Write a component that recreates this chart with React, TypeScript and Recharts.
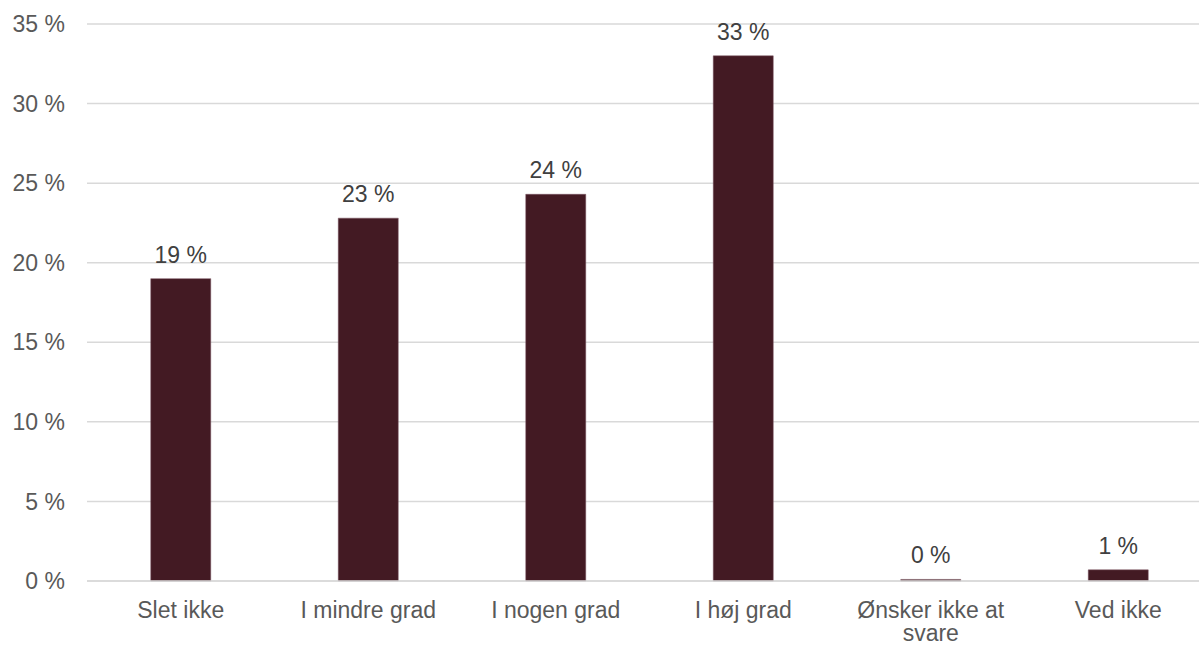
import { BarChart, Bar, XAxis, YAxis, CartesianGrid, LabelList } from "recharts";

const categories = [
  "Slet ikke",
  "I mindre grad",
  "I nogen grad",
  "I høj grad",
  "Ønsker ikke at\nsvare",
  "Ved ikke",
];
const shares = [19.0, 22.8, 24.3, 33.0, 0.1, 0.7];
const shareLabels = ["19 %", "23 %", "24 %", "33 %", "0 %", "1 %"];
const yTicks = [0, 5, 10, 15, 20, 25, 30, 35];

const data = categories.map((name, i) => ({
  name,
  value: shares[i],
  label: shareLabels[i],
}));

const FONT = "'Liberation Sans', Arial, sans-serif";

// x tick with manual line breaks
const CategoryTick = (props: any) => {
  const { x, y, payload } = props;
  const lines = String(payload.value).split("\n");
  return (
    <g>
      {lines.map((line, i) => (
        <text
          key={i}
          x={x}
          y={y + 16.5 + i * 23}
          textAnchor="middle"
          fill="#595959"
          fontSize={23}
          fontFamily={FONT}
        >
          {line}
        </text>
      ))}
    </g>
  );
};

export default function App() {
  return (
    <div
      style={{
        position: "fixed",
        left: 0,
        top: 0,
        width: 1199,
        height: 646,
        overflow: "hidden",
        background: "#fff",
      }}
    >
      <BarChart
        width={1215}
        height={646}
        data={data}
        margin={{ top: 24, right: 3, left: 0, bottom: 0 }}
        barCategoryGap="34%"
        style={{ fontFamily: FONT }}
      >
        <CartesianGrid vertical={false} stroke="#d9d9d9" strokeWidth={1.5} />
        <XAxis
          dataKey="name"
          height={65}
          axisLine={{ stroke: "#d9d9d9", strokeWidth: 1.5 }}
          tickLine={false}
          tickSize={0}
          tickMargin={20}
          interval={0}
          tick={<CategoryTick />}
        />
        <YAxis
          width={87}
          domain={[0, 35]}
          ticks={yTicks}
          axisLine={false}
          tickLine={false}
          tickSize={0}
          tickMargin={22}
          tickFormatter={(v: number) => `${v} %`}
          tick={{ fill: "#595959", fontSize: 23 }}
        />
        <Bar dataKey="value" fill="#431a23" stroke="#7a5560" strokeWidth={0.5} isAnimationActive={false}>
          <LabelList dataKey="label" position="top" offset={16} fill="#404040" fontSize={23} />
        </Bar>
      </BarChart>
    </div>
  );
}
